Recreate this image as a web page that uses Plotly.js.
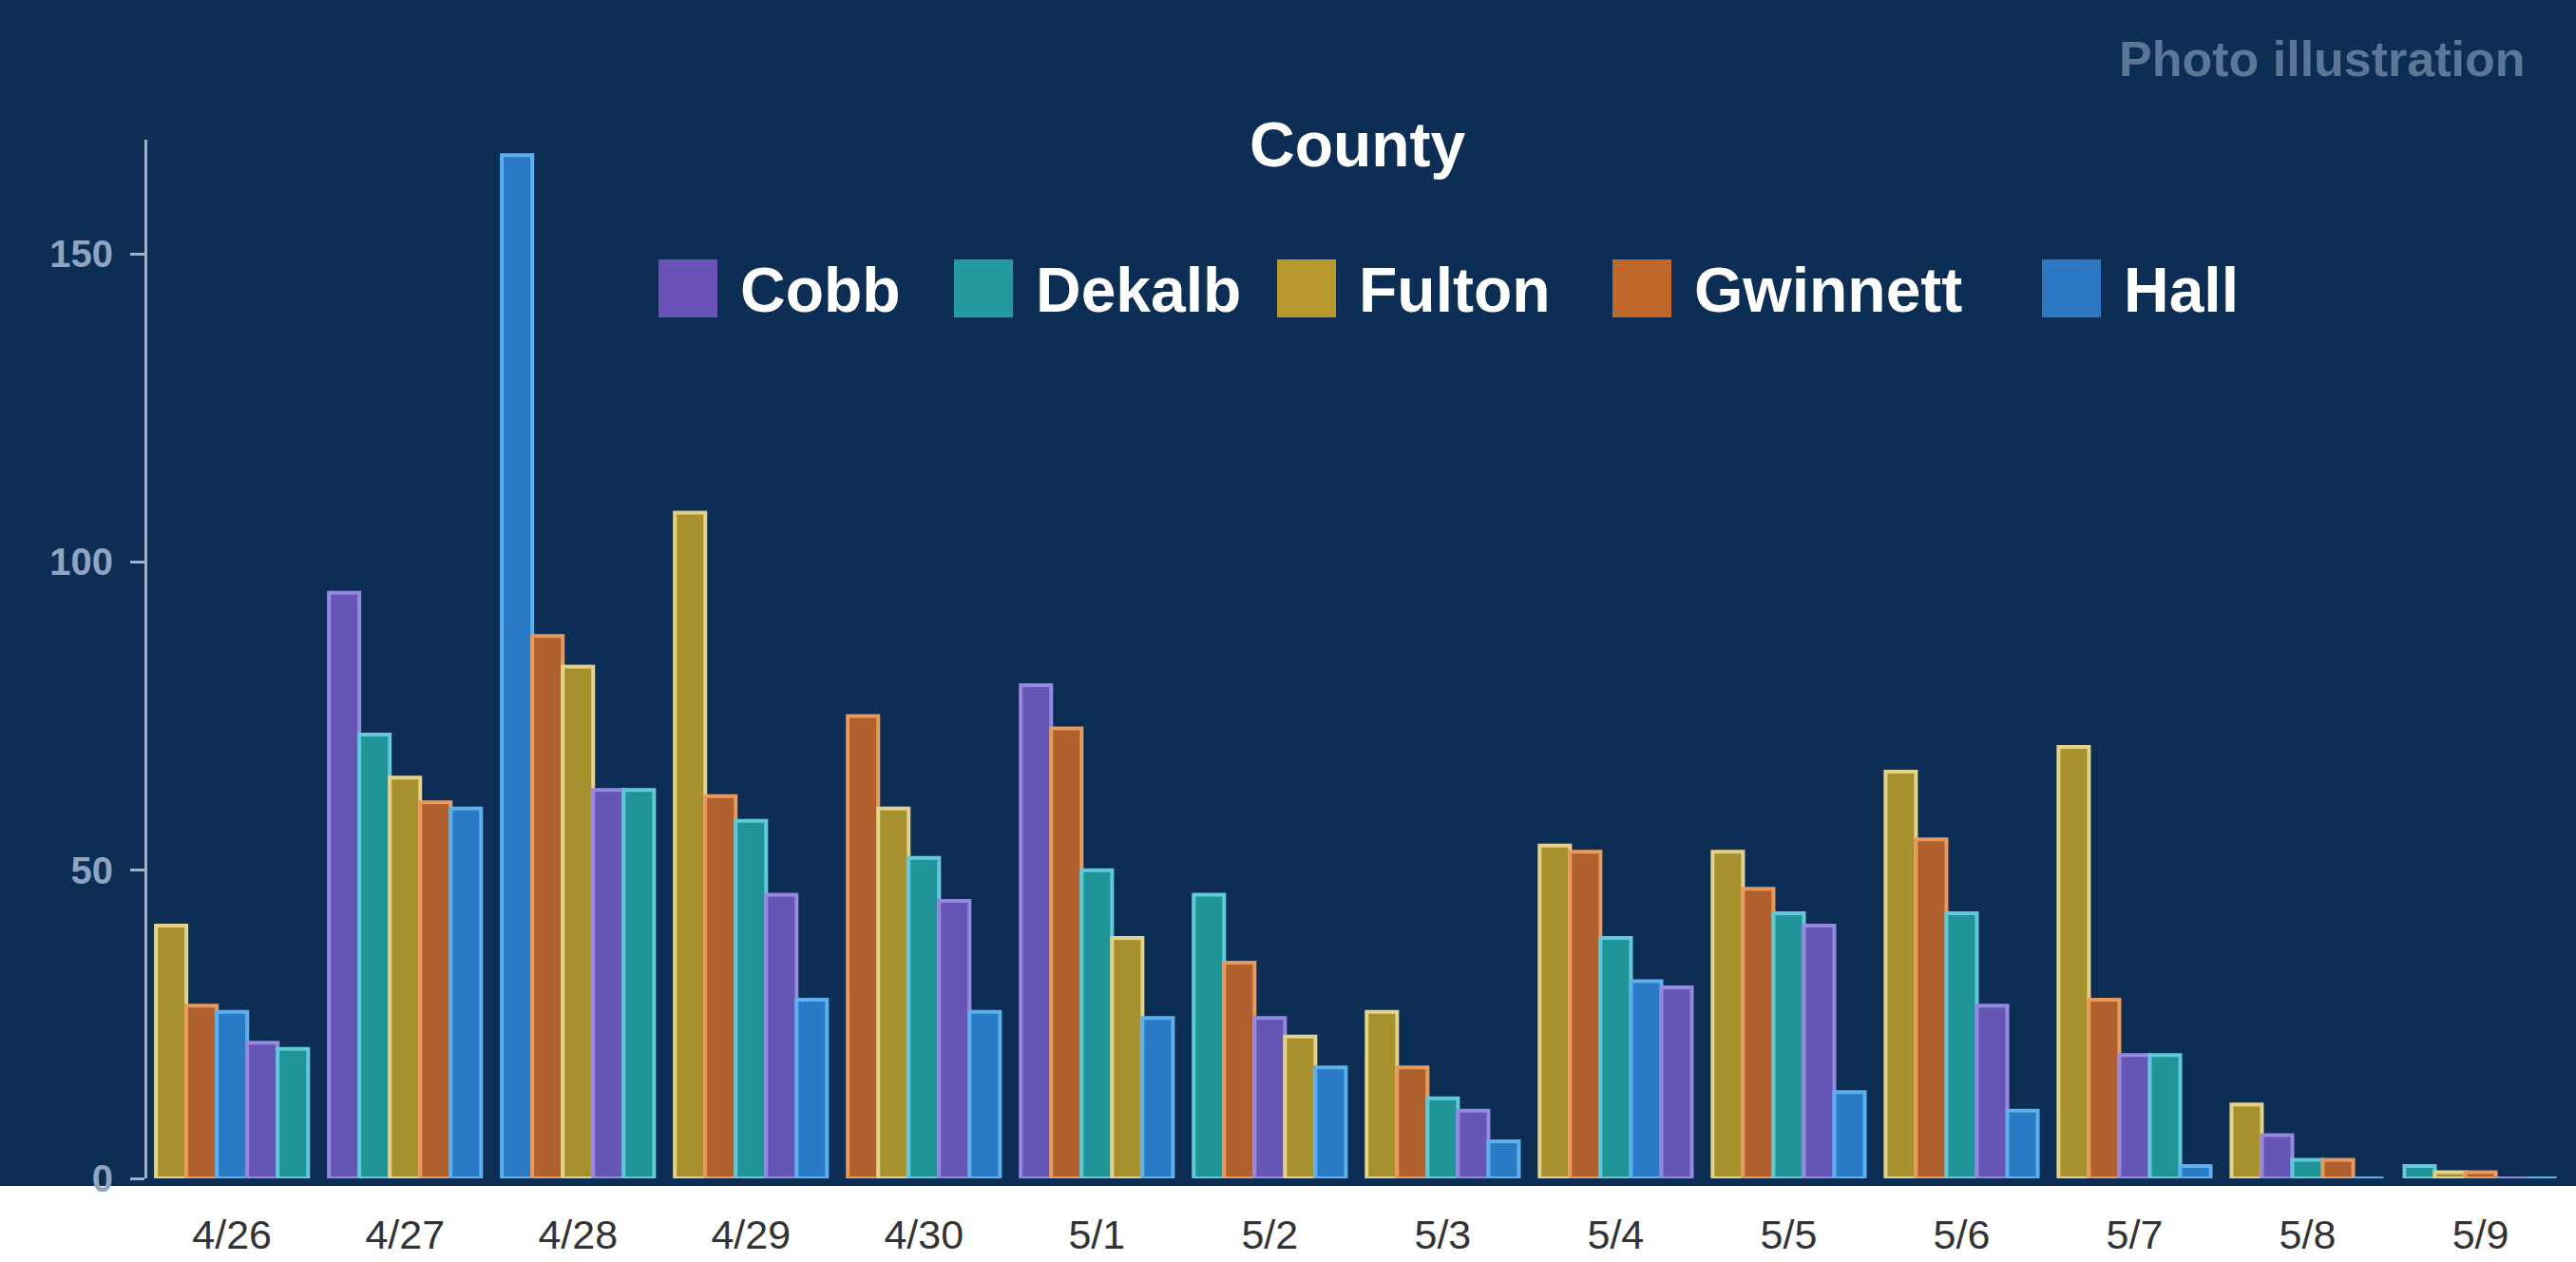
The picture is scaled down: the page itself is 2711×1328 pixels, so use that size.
<!DOCTYPE html>
<html>
<head>
<meta charset="utf-8">
<script src="https://cdn.plot.ly/plotly-3.0.1.min.js"></script>
<style>html,body{margin:0;padding:0;background:#0c2e54;}#chart{width:2711px;height:1328px;}</style>
</head>
<body>
<div id="chart"></div>
<script>
// ---- data ----
const dates = ['4/26','4/27','4/28','4/29','4/30','5/1','5/2','5/3','5/4','5/5','5/6','5/7','5/8','5/9'];
const counties = ['Cobb','Dekalb','Fulton','Gwinnett','Hall'];
const cobb     = [22, 95,  63,  46, 45, 80, 26, 11, 31, 41, 28, 20,  7, 0];
const dekalb   = [21, 72,  63,  58, 52, 50, 46, 13, 39, 43, 43, 20,  3, 2];
const fulton   = [41, 65,  83, 108, 60, 39, 23, 27, 54, 53, 66, 70, 12, 1];
const gwinnett = [28, 61,  88,  62, 75, 73, 35, 18, 53, 47, 55, 29,  3, 1];
const hall     = [27, 60, 166,  29, 27, 26, 18,  6, 32, 14, 11,  2,  0, 0];
const yTicks = [0, 50, 100, 150];

// ---- styles ----
const fills    = ['#6555b4', '#1f9598', '#a8902c', '#b0602c', '#2a7ac6'];
const outlines = ['#9488e0', '#62c8dc', '#e2d28a', '#e89a5c', '#5cb0ee'];
const swatch   = ['#6a52b8', '#239a9e', '#b8982c', '#c0682a', '#2c78c4'];
const BG = '#0c2e54';
const SANS = '"Liberation Sans", Arial, sans-serif';

const series = [cobb, dekalb, fulton, gwinnett, hall];

// Each date: counties sorted by value (descending), bars placed by rank.
const ranked = dates.map((d, i) => {
  const arr = counties.map((c, k) => ({k: k, v: series[k][i]}));
  arr.sort((a, b) => b.v - a.v);
  return arr;
});

const traces = [];
for (let r = 0; r < counties.length; r++) {
  traces.push({
    type: 'bar',
    x: dates,
    y: ranked.map(a => a[r].v),
    text: ranked.map(a => counties[a[r].k]),
    hovertemplate: '%{text}: %{y}<extra></extra>',
    textposition: 'none',
    marker: {
      color: ranked.map(a => fills[a[r].k]),
      line: {color: ranked.map(a => outlines[a[r].k]), width: 4}
    },
    showlegend: false
  });
}

// ---- geometry helpers (figure pixels -> paper coords) ----
const W = 2711, H = 1328, ML = 155, MR = 4, MT = 147, MB = 88;
const PW = W - ML - MR, PH = H - MT - MB;
const px = x => (x - ML) / PW;
const py = y => (H - MB - y) / PH;

const shapes = [{
  type: 'rect', xref: 'paper', yref: 'paper', layer: 'below',
  x0: px(-10), x1: px(W + 10), y0: py(H + 10), y1: py(1248),
  fillcolor: '#ffffff', line: {width: 0}
}];

const annotations = [
  {xref: 'paper', yref: 'paper', x: px(1429), y: py(152), xanchor: 'center', yanchor: 'middle',
   text: 'County', showarrow: false,
   font: {family: SANS, size: 66, color: '#ffffff', weight: 'bold'}},
  {xref: 'paper', yref: 'paper', x: px(2660), y: py(62), xanchor: 'right', yanchor: 'middle',
   text: 'Photo illustration', showarrow: false,
   font: {family: SANS, size: 52, color: '#5b7696', weight: 'bold'}}
];

const legendX = [693, 1004, 1344, 1697, 2149];
counties.forEach((c, k) => {
  shapes.push({
    type: 'rect', xref: 'paper', yref: 'paper',
    x0: px(legendX[k]), x1: px(legendX[k] + 62), y0: py(334), y1: py(273),
    fillcolor: swatch[k], line: {width: 0}
  });
  annotations.push({
    xref: 'paper', yref: 'paper', x: px(legendX[k] + 84), y: py(305),
    xanchor: 'left', yanchor: 'middle', text: c, showarrow: false,
    font: {family: SANS, size: 66, color: '#ffffff', weight: 'bold'}
  });
});

const layout = {
  width: W, height: H,
  margin: {l: ML, r: MR, t: MT, b: MB, pad: 0},
  paper_bgcolor: BG, plot_bgcolor: BG,
  barmode: 'group', bargap: 0.12, bargroupgap: 0,
  showlegend: false,
  xaxis: {
    type: 'category', range: [-0.49, 13.53],
    showline: false, showgrid: false, zeroline: false, ticks: '',
    tickfont: {family: SANS, size: 43, color: '#333333'},
    ticklabelstandoff: 30
  },
  yaxis: {
    range: [0, 168.5], tickvals: yTicks, ticktext: yTicks.map(String),
    showgrid: false, zeroline: false,
    showline: true, linecolor: '#9cb0c8', linewidth: 3,
    ticks: 'outside', ticklen: 15, tickwidth: 3, tickcolor: '#9cb0c8',
    tickfont: {family: SANS, size: 40, color: '#8ea4c2', weight: 'bold'},
    ticklabelstandoff: 10
  },
  shapes: shapes,
  annotations: annotations
};

Plotly.newPlot('chart', traces, layout, {displayModeBar: false, staticPlot: true});
</script>
</body>
</html>
